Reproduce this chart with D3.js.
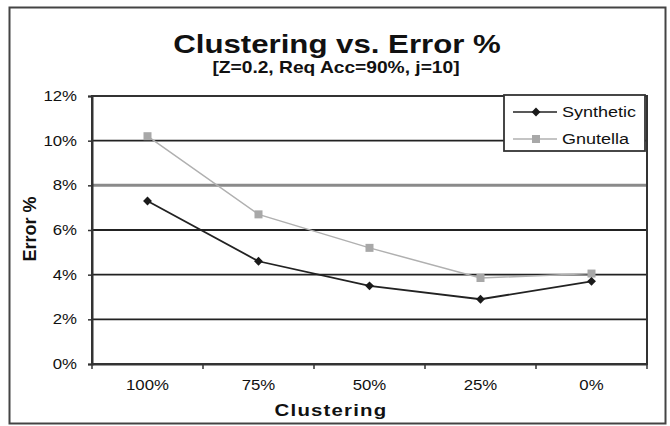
<!DOCTYPE html>
<html>
<head>
<meta charset="utf-8">
<script src="https://cdn.jsdelivr.net/npm/d3@7"></script>
<style>
  body { margin: 0; background: #fff; }
  svg { font-family: "Liberation Sans", Arial, sans-serif; }
</style>
</head>
<body>
<div id="chart"></div>
<script>
const categories = ["100%", "75%", "50%", "25%", "0%"];
const synthetic = [7.3, 4.6, 3.5, 2.9, 3.7];
const gnutella = [10.2, 6.7, 5.2, 3.85, 4.05];
const yTicks = [0, 2, 4, 6, 8, 10, 12];

const width = 670,
    height = 426,
    margin = { top: 96, right: 23, bottom: 62, left: 92 };

// the original text is a bit wider than normal type
const stretch = 1.2;

const svg = d3.select("#chart").append("svg")
    .attr("width", width)
    .attr("height", height);

// outer frame
svg.append("rect")
    .attr("x", 9.5).attr("y", 7.5)
    .attr("width", 656).attr("height", 416)
    .attr("fill", "none")
    .attr("stroke", "#444")
    .attr("stroke-width", 2);

const xScale = d3.scaleBand()
    .domain(categories)
    .range([margin.left, width - margin.right]);

const yScale = d3.scaleLinear()
    .domain([0, 12])
    .range([height - margin.bottom, margin.top]);

const x = d => xScale(d) + xScale.bandwidth() / 2;

// gridlines
svg.append("g")
    .selectAll("line")
    .data(yTicks.filter(d => d > 0))
    .enter()
    .append("line")
    .attr("x1", margin.left)
    .attr("x2", width - margin.right)
    .attr("y1", d => yScale(d))
    .attr("y2", d => yScale(d))
    .attr("stroke", d => d === 8 ? "#8a8a8a" : "#222")
    .attr("stroke-width", d => d === 8 ? 3 : 1.8);

// plot border
svg.append("rect")
    .attr("x", margin.left)
    .attr("y", yScale(12))
    .attr("width", width - margin.right - margin.left)
    .attr("height", yScale(0) - yScale(12))
    .attr("fill", "none")
    .attr("stroke", "#333")
    .attr("stroke-width", 2);

// Axes
const yAxis = svg.append("g")
    .attr("transform", `translate(${margin.left},0)`)
    .call(d3.axisLeft(yScale).tickValues(yTicks).tickFormat(d => d + "%").tickSize(4));
yAxis.select(".domain").attr("stroke", "#333").attr("stroke-width", 2);
yAxis.selectAll(".tick line").attr("stroke", "#333").attr("stroke-width", 1.5);
yAxis.selectAll("text")
    .attr("x", -15 / stretch)
    .attr("transform", `scale(${stretch},1)`)
    .style("font-size", "14px")
    .attr("fill", "#111");

const xAxis = svg.append("g")
    .attr("transform", `translate(0,${height - margin.bottom})`)
    .call(d3.axisBottom(xScale).tickSize(0).tickPadding(16));
xAxis.select(".domain").attr("stroke", "#333").attr("stroke-width", 2);
xAxis.selectAll("text")
    .attr("transform", `scale(${stretch},1)`)
    .style("font-size", "14px")
    .attr("fill", "#111");

// band boundary ticks
svg.append("g")
    .selectAll("line")
    .data(categories.concat(["end"]))
    .enter()
    .append("line")
    .attr("x1", (d, i) => margin.left + i * xScale.bandwidth())
    .attr("x2", (d, i) => margin.left + i * xScale.bandwidth())
    .attr("y1", yScale(0))
    .attr("y2", yScale(0) + 5)
    .attr("stroke", "#333")
    .attr("stroke-width", 1.5);

// Lines
const line = d3.line()
    .x((d, i) => x(categories[i]))
    .y(d => yScale(d));

svg.append("path")
    .datum(gnutella)
    .attr("fill", "none")
    .attr("stroke", "#b0b0b0")
    .attr("stroke-width", 1.5)
    .attr("d", line);

svg.append("path")
    .datum(synthetic)
    .attr("fill", "none")
    .attr("stroke", "#222")
    .attr("stroke-width", 1.8)
    .attr("d", line);

svg.append("g")
    .selectAll("rect")
    .data(gnutella)
    .enter()
    .append("rect")
    .attr("x", (d, i) => x(categories[i]) - 4)
    .attr("y", d => yScale(d) - 4)
    .attr("width", 8)
    .attr("height", 8)
    .attr("fill", "#a8a8a8");

const diamond = d3.symbol().type(d3.symbolDiamond2).size(50);
svg.append("g")
    .selectAll("path")
    .data(synthetic)
    .enter()
    .append("path")
    .attr("transform", (d, i) => `translate(${x(categories[i])},${yScale(d)})`)
    .attr("d", diamond)
    .attr("fill", "#1a1a1a");

// stretched text helper
function label(px, py, txt, size, opts = {}) {
    const t = svg.append("text")
        .attr("transform", `translate(${px},${py}) scale(${opts.sx || stretch},1)` + (opts.rotate ? ` rotate(${opts.rotate})` : ""))
        .attr("text-anchor", opts.anchor || "middle")
        .style("font-size", size + "px")
        .style("font-weight", opts.bold ? "bold" : "normal")
        .attr("fill", "#111")
        .text(txt);
    if (opts.spacing) t.style("letter-spacing", opts.spacing + "px");
    return t;
}

// Legend
const legend = svg.append("g").attr("transform", "translate(504,95)");
legend.append("rect")
    .attr("width", 141).attr("height", 56)
    .attr("fill", "#fff")
    .attr("stroke", "#333")
    .attr("stroke-width", 1.8);

const items = [
    { name: "Synthetic", color: "#222", y: 17 },
    { name: "Gnutella", color: "#b0b0b0", y: 44 }
];
items.forEach(it => {
    legend.append("line")
        .attr("x1", 9).attr("x2", 53)
        .attr("y1", it.y).attr("y2", it.y)
        .attr("stroke", it.color)
        .attr("stroke-width", 1.5);
    if (it.name === "Synthetic") {
        legend.append("path")
            .attr("transform", `translate(32,${it.y})`)
            .attr("d", diamond)
            .attr("fill", "#1a1a1a");
    } else {
        legend.append("rect")
            .attr("x", 28).attr("y", it.y - 4)
            .attr("width", 8).attr("height", 8)
            .attr("fill", "#a8a8a8");
    }
    legend.append("text")
        .attr("transform", `translate(58,${it.y + 5}) scale(${stretch},1)`)
        .style("font-size", "15px")
        .attr("fill", "#111")
        .text(it.name);
});

// Titles
label(337, 53, "Clustering vs. Error %", 26, { bold: true });
label(336, 73, "[Z=0.2, Req Acc=90%, j=10]", 16, { bold: true });
label(36, 229, "Error %", 18, { bold: true, sx: 1, rotate: -90 });
label(331, 416, "Clustering", 17, { bold: true, spacing: 1 });
</script>
</body>
</html>
